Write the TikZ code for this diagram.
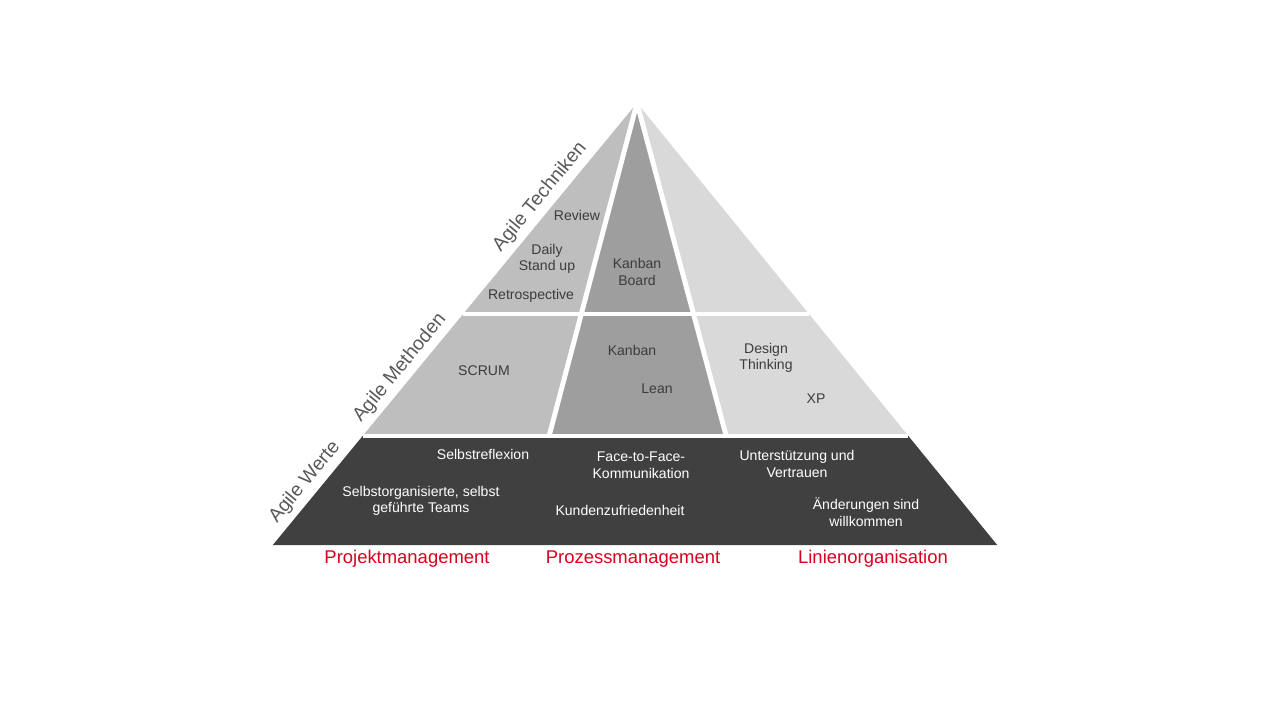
\documentclass[tikz,border=0pt]{standalone}
\usepackage{fontspec}
\setmainfont{Liberation Sans}
\definecolor{lightpart}{HTML}{BEBEBE}
\definecolor{midpart}{HTML}{9E9E9E}
\definecolor{rightpart}{HTML}{D9D9D9}
\definecolor{basepart}{HTML}{404040}
\definecolor{textgray}{HTML}{3C3C3C}
\definecolor{sidegray}{HTML}{595959}
\definecolor{areared}{HTML}{D9001E}
\tikzset{
  lbl/.style={font=\fontsize{8}{9.5}\selectfont, text=textgray, align=center, inner sep=0pt},
  wlbl/.style={lbl, text=white},
  side/.style={font=\fontsize{11}{13}\selectfont, text=sidegray, rotate=50.5, inner sep=0pt},
  area/.style={font=\fontsize{10.5}{12}\selectfont, text=areared, inner sep=0pt},
  gap/.style={draw=white, line width=2.8pt},
}
\begin{document}
\begin{tikzpicture}[x=0.02cm,y=-0.02cm]
  \useasboundingbox (0,0) rectangle (1280,720);
  % pyramid corners
  \coordinate (top) at (637,103);
  \coordinate (l1) at (463.1,314);
  \coordinate (r1) at (809,314);
  \coordinate (l2) at (362.6,436);
  \coordinate (r2) at (908.4,436);
  \coordinate (l3) at (272.8,545);
  \coordinate (r3) at (997.2,545);
  \coordinate (dl1) at (581.3,314);
  \coordinate (dr1) at (693.5,314);
  \coordinate (dl2) at (549.1,436);
  \coordinate (dr2) at (726.2,436);
  % pieces
  \fill[lightpart] (top) -- (l2) -- (dl2) -- cycle;
  \fill[midpart] (top) -- (dl2) -- (dr2) -- cycle;
  \fill[rightpart] (top) -- (dr2) -- (r2) -- cycle;
  \fill[basepart] (l2) -- (r2) -- (r3) -- (l3) -- cycle;
  % white gaps
  \draw[gap] (l1) -- (r1);
  \draw[gap] (l2) -- (r2);
  \draw[gap] (top) -- (dl2);
  \draw[gap] (top) -- (dr2);

  % techniques
  \node[lbl] (review) at (577,215) {Review};
  \node[lbl] (daily) at (547,259) {Daily\\Stand up};
  \node[lbl] (retro) at (531,296) {Retrospective};
  \node[lbl] (board) at (637,272) {Kanban\\Board};
  % methods
  \node[lbl] (scrum) at (484,371) {SCRUM};
  \node[lbl] (kanban) at (632,350) {Kanban};
  \node[lbl] (lean) at (657,389) {Lean};
  \node[lbl] (design) at (766,358) {Design\\Thinking};
  \node[lbl] (xp) at (816,399) {XP};
  % values
  \node[wlbl] (reflex) at (483,454) {Selbstreflexion};
  \node[wlbl] (teams) at (421,501) {Selbstorganisierte, selbst\\geführte Teams};
  \node[wlbl] (face) at (641,465) {Face-to-Face-\\Kommunikation};
  \node[wlbl] (kunden) at (620,510) {Kundenzufriedenheit};
  \node[wlbl] (trust) at (797,464) {Unterstützung und\\Vertrauen};
  \node[wlbl] (change) at (866,512) {Änderungen sind\\willkommen};
  % side labels
  \node[side] (tech) at (540,197) {Agile Techniken};
  \node[side] (meth) at (400,368) {Agile Methoden};
  \node[side] (werte) at (305,482) {Agile Werte};
  % areas
  \node[area] (projekt) at (407,559) {Projektmanagement};
  \node[area] (prozess) at (633,559) {Prozessmanagement};
  \node[area] (linie) at (873,559) {Linienorganisation};
\end{tikzpicture}
\end{document}
